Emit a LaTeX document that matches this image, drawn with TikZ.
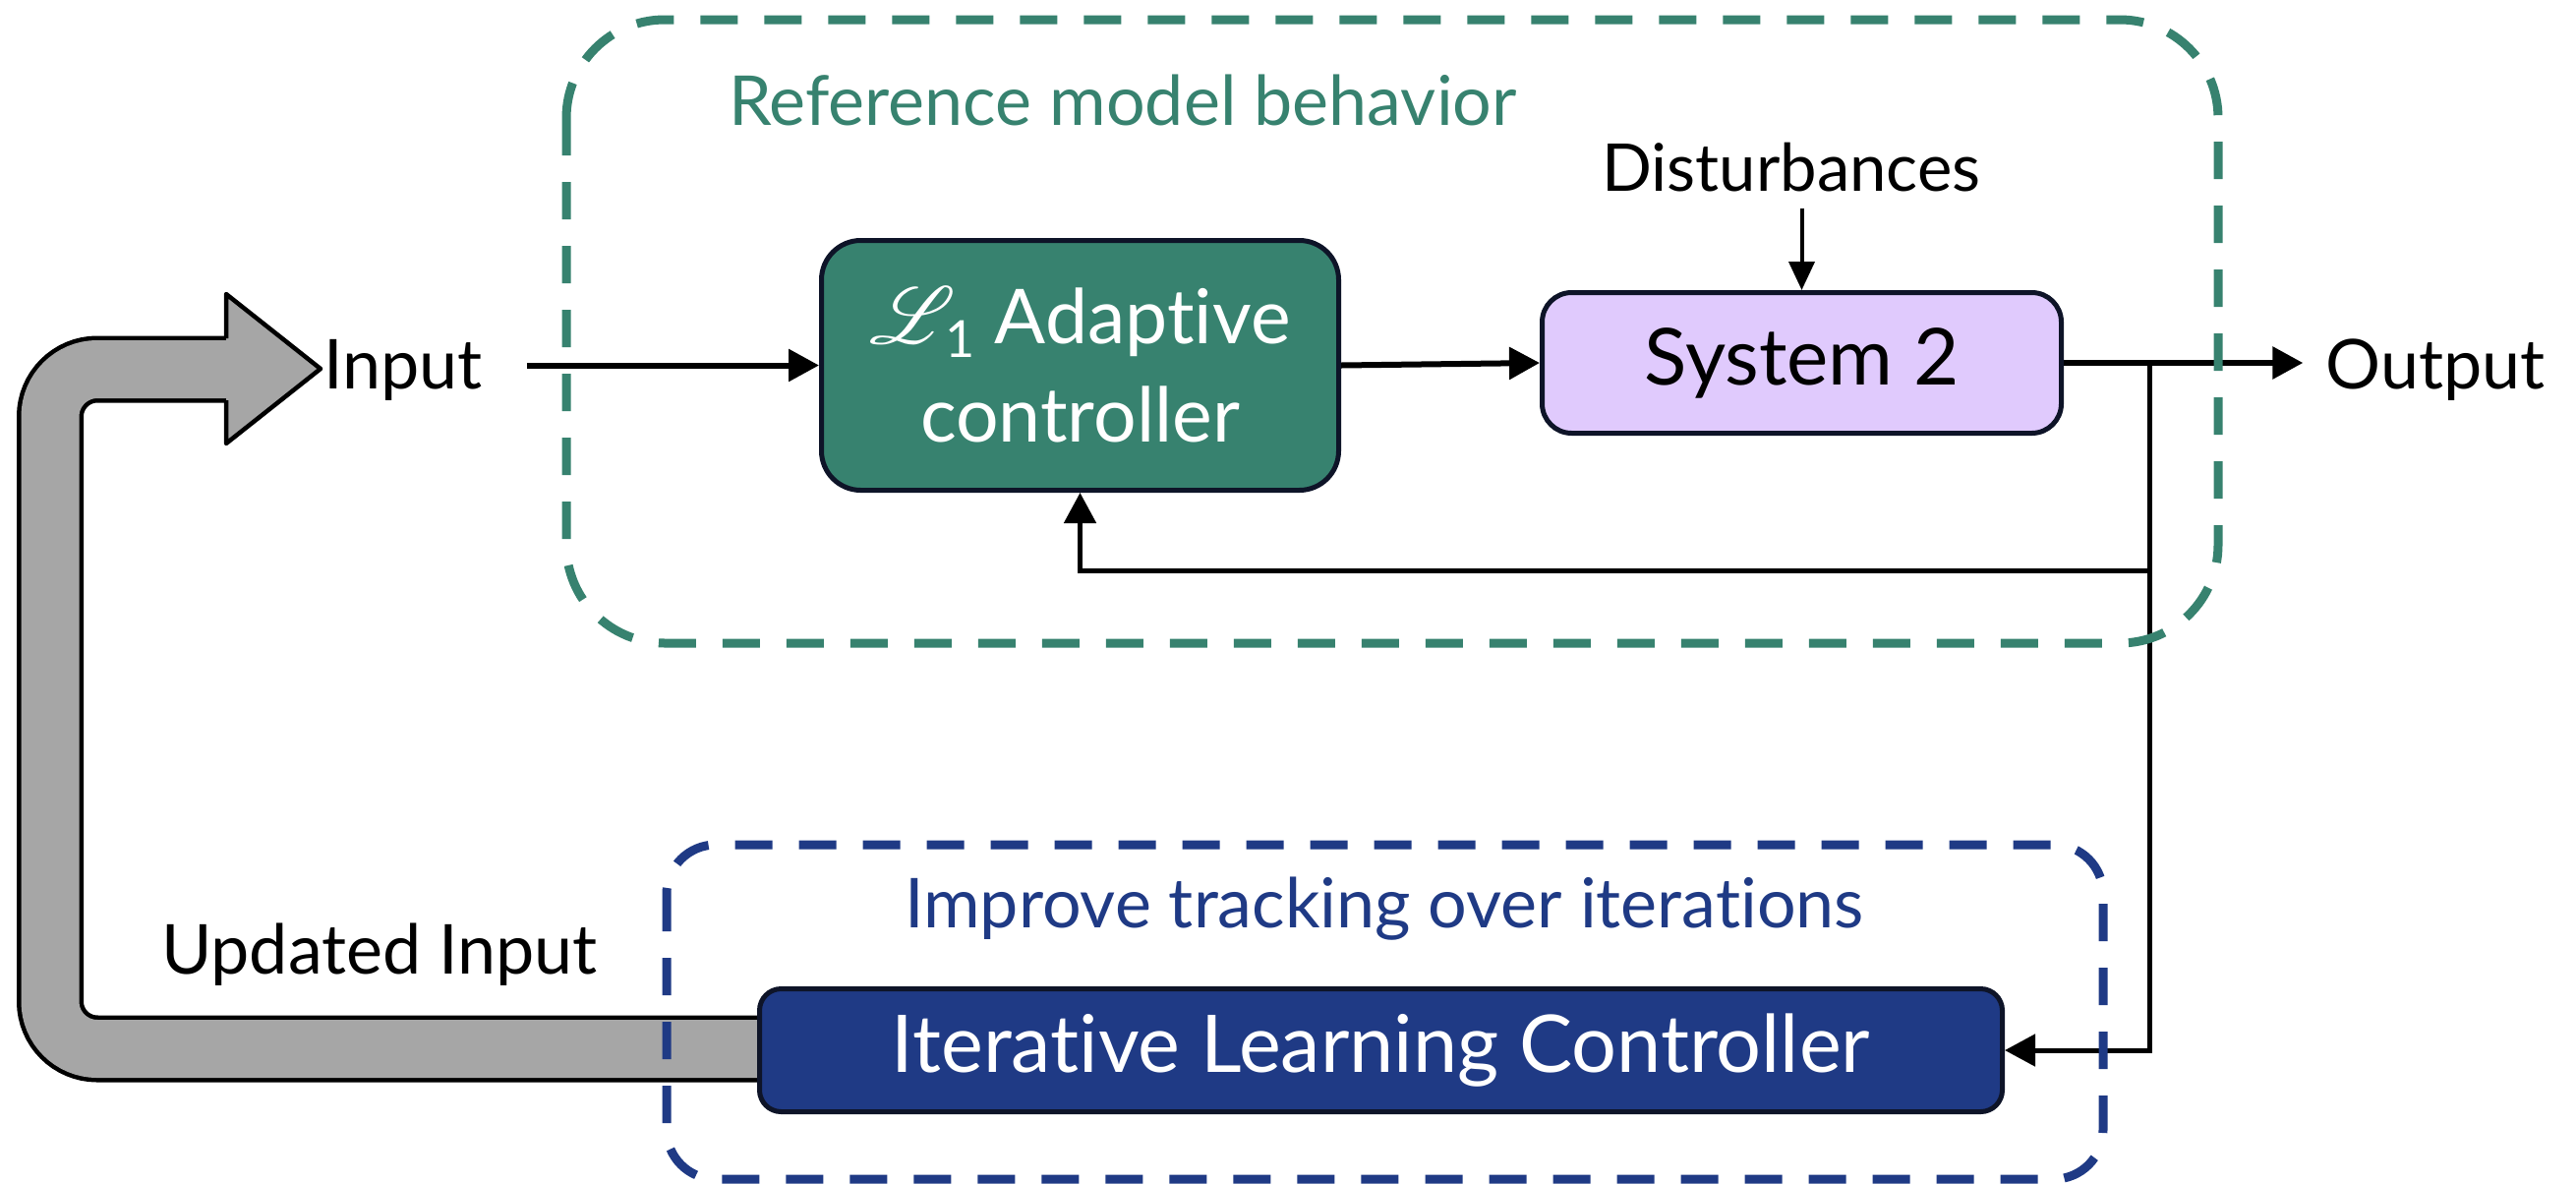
\documentclass[tikz,border=0pt]{standalone}
\usepackage{fontspec}
\setmainfont{Lato}[Ligatures=NoCommon]
\usepackage{mathrsfs}
\usetikzlibrary{arrows.meta}
\definecolor{refteal}{HTML}{37826F}
\definecolor{ilcblue}{HTML}{1F3A85}
\definecolor{syslav}{HTML}{E0CAFD}
\definecolor{bandgray}{HTML}{A6A6A6}
\definecolor{boxedge}{HTML}{0E1428}

\begin{document}
\begin{tikzpicture}[x=1pt,y=-1pt]
        \tikzset{block/.style={draw=boxedge, line width=5pt, rounded corners=40pt, align=center, inner sep=0pt},
            lbl/.style={inner sep=0pt, anchor=base, font=\fontsize{70}{84}\selectfont},
            flow/.style={line width=6pt, -{Triangle[length=31pt,width=32pt]}},
            fbline/.style={line width=5pt, -{Triangle[length=31pt,width=32pt]}},
            dashbox/.style={line width=9pt, dash pattern=on 38pt off 27pt}}
        \useasboundingbox (0,0) rectangle (2620,1203);
        % gray return arrow
        \draw[line width=68pt, rounded corners=48pt] (800,1066.5) -- (51,1066.5) -- (51,375.5) -- (230,375.5);
        \draw[line width=59pt, bandgray, rounded corners=48pt] (800,1066.5) -- (51,1066.5) -- (51,375.5) -- (230,375.5);
        \fill[bandgray] (230,299) -- (326,375) -- (230,451) -- cycle;
        \draw[line width=4.5pt, line join=round] (230,344) -- (230,299) -- (326,375) -- (230,451) -- (230,407);
        % blocks
        \node[block, fill=refteal, text=white, minimum width=526pt, minimum height=254pt,
            font=\fontsize{77}{100}\selectfont] (l1ac) at (1098.5,371.5)
            {{\fontsize{24.88}{30}\selectfont\scalebox{3.3}{$\mathscr{L}$}}\kern-10pt\raisebox{-14pt}{\fontsize{52}{52}\selectfont 1} Adaptive\\controller};
        \node[block, fill=syslav, minimum width=528pt, minimum height=143pt, rounded corners=30pt,
            font=\fontsize{80}{96}\selectfont] (sys) at (1832.5,369) {System 2};
        \node[block, fill=ilcblue, text=white, minimum width=1264pt, minimum height=125pt, rounded corners=22pt,
            font=\fontsize{81}{97}\selectfont] (ilc) at (1404.5,1068) {Iterative Learning Controller};
        % labels
        \node[lbl] (input) at (410,395) {Input};
        \node[lbl] (output) at (2477,395) {Output};
        \node[lbl, font=\fontsize{67}{80}\selectfont] (dist) at (1822,194) {Disturbances};
        \node[lbl, text=refteal] (refl) at (1142,127) {Reference model behavior};
        \node[lbl, text=ilcblue] (iml) at (1408,943) {Improve tracking over iterations};
        \node[lbl] (upd) at (386,990) {Updated Input};
        % connectors
        \coordinate (split) at (2186,369);
        \coordinate (fbk) at (2186,580);
        \draw[flow, shorten <=45pt] (input.east |- l1ac.west) -- (l1ac.west);
        \draw[flow] (l1ac.east) -- (sys.west);
        \draw[flow] (sys.east) -- ([xshift=-23pt]output.west |- sys.east);
        \draw[line width=4pt, -{Triangle[length=29pt,width=26pt]}, shorten <=18pt] (sys.north |- dist.base) -- (sys.north);
        \draw[fbline] (split) -- (split |- ilc.east) -- (ilc.east);
        \draw[fbline] (fbk) -- (fbk -| l1ac.south) -- (l1ac.south);
        % dashed groups
        \draw[refteal, dashbox, rounded corners=100pt] (576,20) rectangle (2256,654);
        \draw[ilcblue, dashbox, rounded corners=50pt] (678,859) rectangle (2139,1199);
\end{tikzpicture}
\end{document}
